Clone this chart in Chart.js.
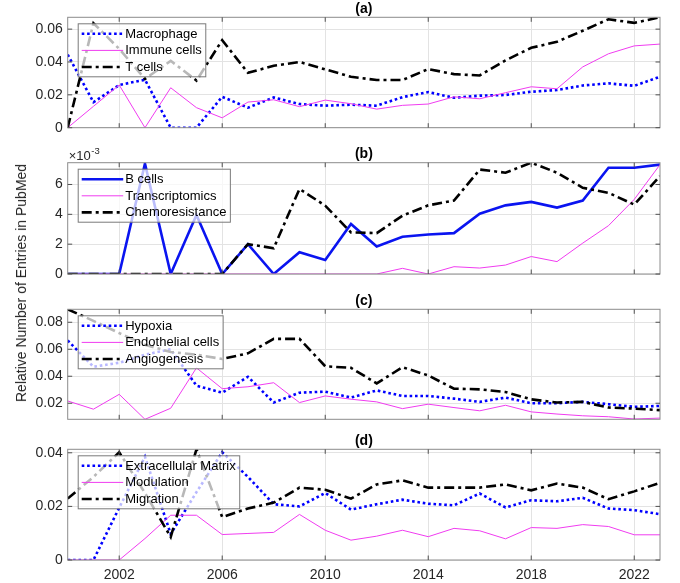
<!DOCTYPE html>
<html>
<head>
<meta charset="utf-8">
<script src="https://cdn.jsdelivr.net/npm/chart.js@4.4.1/dist/chart.umd.min.js"></script>
<style>
html,body{margin:0;padding:0;background:#fff;}
#wrap{position:relative;width:680px;height:583px;overflow:hidden;background:#fff;}
#wrap canvas{position:absolute;left:0;top:0;}
#ylab{position:absolute;left:21px;top:283px;transform:translate(-50%,-50%) rotate(-90deg);white-space:nowrap;font:14px 'Liberation Sans',Arial,sans-serif;color:#262626;}
</style>
</head>
<body>
<div id="wrap">
<canvas id="ca" width="680" height="583"></canvas>
<canvas id="cb" width="680" height="583"></canvas>
<canvas id="cc" width="680" height="583"></canvas>
<canvas id="cd" width="680" height="583"></canvas>
<div id="ylab">Relative Number of Entries in PubMed</div>
</div>
<script>
// ---------------- DATA ----------------
const years = [2000,2001,2002,2003,2004,2005,2006,2007,2008,2009,2010,2011,2012,2013,2014,2015,2016,2017,2018,2019,2020,2021,2022,2023];
const xTickYears = [2002,2006,2010,2014,2018,2022];

// (a)
const macrophage  = [0.0445,0.0155,0.026,0.0292,0,0,0.0188,0.0122,0.0184,0.0144,0.0134,0.014,0.0134,0.0186,0.0217,0.0182,0.0195,0.0199,0.0219,0.0229,0.0257,0.027,0.0255,0.031];
const immuneCells = [0,0.013,0.026,0,0.0243,0.0122,0.006,0.0156,0.017,0.0128,0.0168,0.0146,0.0113,0.0136,0.0144,0.0188,0.0176,0.0213,0.0249,0.0237,0.037,0.045,0.0498,0.0509];
const tCells      = [0,0.0636,0.048,0.0297,0.0407,0.0287,0.0533,0.0334,0.0377,0.040,0.0355,0.031,0.029,0.029,0.0357,0.0326,0.0318,0.041,0.0486,0.0523,0.059,0.066,0.0638,0.0672];
const aTicks = [0,0.02,0.04,0.06];
const aTickLabels = ['0','0.02','0.04','0.06'];

// (b)  values in units of 10^-3
const bCells          = [0,0,0,7.4,0,3.95,0,2.0,0,1.46,0.94,3.35,1.84,2.5,2.65,2.74,4.04,4.6,4.83,4.45,4.92,7.12,7.12,7.33];
const transcriptomics = [0,0,0,0,0,0,0,0,0,0,0,0,0,0.38,0,0.49,0.4,0.6,1.17,0.83,2.07,3.24,5.0,7.33];
const chemoresistance = [0,0,0,0,0,0,0,2.0,1.73,5.7,4.58,2.79,2.74,3.91,4.6,4.92,7.0,6.79,7.46,6.79,5.78,5.44,4.65,6.56];
const bTicks = [0,2,4,6];
const bTickLabels = ['0','2','4','6'];

// (c)
const hypoxia      = [0.0665,0.047,0.050,0.056,0.060,0.033,0.0278,0.0396,0.0205,0.0278,0.0286,0.0242,0.0295,0.0254,0.0254,0.0234,0.021,0.0242,0.02,0.02,0.021,0.0193,0.0173,0.018];
const endothelial  = [0.0217,0.0156,0.0266,0.0081,0.0163,0.0462,0.0308,0.0322,0.0352,0.0205,0.0254,0.023,0.021,0.016,0.0193,0.0168,0.0144,0.0185,0.0136,0.012,0.0107,0.01,0.0083,0.009];
const angiogenesis = [0.0896,0.081,0.072,0.0633,0.058,0.056,0.0528,0.057,0.0677,0.0677,0.0474,0.0462,0.0347,0.0467,0.0406,0.0308,0.0303,0.0283,0.0229,0.0205,0.021,0.0168,0.016,0.0149];
const cTicks = [0.02,0.04,0.06,0.08];
const cTickLabels = ['0.02','0.04','0.06','0.08'];

// (d)
const ecm        = [0,0,0.0195,0.0385,0.0097,0.0253,0.0402,0.031,0.0208,0.02,0.025,0.0188,0.0208,0.0225,0.021,0.0204,0.0248,0.0196,0.0223,0.0219,0.0232,0.0192,0.0186,0.0171];
const modulation = [0,0,0,0.008,0.0167,0.0167,0.0095,0.0099,0.0103,0.017,0.0111,0.0074,0.0089,0.0111,0.0087,0.0118,0.0109,0.0079,0.0121,0.0118,0.0132,0.0125,0.0094,0.0094];
const migration  = [0.0229,0.031,0.0402,0.025,0.0086,0.0413,0.016,0.0192,0.0214,0.027,0.0262,0.0229,0.0282,0.0297,0.027,0.027,0.027,0.0282,0.026,0.0285,0.027,0.0227,0.0256,0.0288];
const dTicks = [0,0.02,0.04];
const dTickLabels = ['0','0.02','0.04'];

// ---------------- STYLES ----------------
const FONT = "'Liberation Sans', Arial, Helvetica, sans-serif";
const TXT = '#262626';
const styleDot   = {borderColor:'#0000ff', borderWidth:2.6, borderDash:[2.6,2.8], order:3};
const styleSolidBlue = {borderColor:'#0a14f0', borderWidth:2.6, borderDash:[], order:3};
const styleThin  = {borderColor:'#f03cf0', borderWidth:1, borderDash:[], order:2};
const styleDashDot = {borderColor:'#000000', borderWidth:2.6, borderDash:[10,4,3,4], order:1};

Chart.defaults.font.family = FONT;
Chart.defaults.font.size = 14;
Chart.defaults.color = TXT;

const decoPlugin = {
  id: 'deco',
  afterDatasetsDraw(chart, args, opts) {
    const ctx = chart.ctx, ca = chart.chartArea;
    const xs = chart.scales.x, ys = chart.scales.y;
    ctx.save();
    // axes box
    ctx.setLineDash([]);
    ctx.strokeStyle = '#8c8c8c';
    ctx.lineWidth = 1;
    ctx.strokeRect(ca.left, ca.top, ca.right - ca.left, ca.bottom - ca.top);
    // inward ticks
    ctx.strokeStyle = '#505050';
    ctx.beginPath();
    xs.ticks.forEach(t => {
      const px = xs.getPixelForValue(t.value);
      ctx.moveTo(px, ca.bottom); ctx.lineTo(px, ca.bottom - 4.5);
      ctx.moveTo(px, ca.top); ctx.lineTo(px, ca.top + 4.5);
    });
    ys.ticks.forEach(t => {
      const py = ys.getPixelForValue(t.value);
      ctx.moveTo(ca.left, py); ctx.lineTo(ca.left + 4.5, py);
      ctx.moveTo(ca.right, py); ctx.lineTo(ca.right - 4.5, py);
    });
    ctx.stroke();
    // legend
    ctx.font = '13px ' + FONT;
    const ds = chart.data.datasets;
    const maxW = Math.max(...ds.map(d => ctx.measureText(d.label).width));
    const lx = ca.left + 10.5, ly = ca.top + 6.5;
    const w = 47 + maxW + 4, h = 53;
    ctx.fillStyle = 'rgba(255,255,255,0.72)';
    ctx.fillRect(lx, ly, w, h);
    ctx.strokeStyle = '#7a7a7a';
    ctx.lineWidth = 1;
    ctx.strokeRect(lx, ly, w, h);
    ds.forEach((d, i) => {
      const ry = ly + 10 + i * 16.6;
      ctx.save();
      ctx.strokeStyle = d.borderColor;
      ctx.lineWidth = d.borderWidth;
      ctx.setLineDash(d.borderDash || []);
      ctx.beginPath();
      ctx.moveTo(lx + 3.5, ry); ctx.lineTo(lx + 45, ry);
      ctx.stroke();
      ctx.restore();
      ctx.fillStyle = '#000';
      ctx.textBaseline = 'middle';
      ctx.textAlign = 'left';
      ctx.fillText(d.label, lx + 47, ry + 0.5);
    });
    // title
    ctx.font = 'bold 14px ' + FONT;
    ctx.fillStyle = '#000';
    ctx.textAlign = 'center';
    ctx.textBaseline = 'middle';
    ctx.fillText(opts.title, (ca.left + ca.right) / 2, ca.top - 8.5);
    // exponent
    if (opts.exponent) {
      ctx.fillStyle = TXT;
      ctx.textAlign = 'left';
      ctx.textBaseline = 'alphabetic';
      ctx.font = '13px ' + FONT;
      ctx.fillText('\u00d710', ca.left + 1, ca.top - 2.5);
      const w10 = ctx.measureText('\u00d710').width;
      ctx.font = '9.5px ' + FONT;
      ctx.fillText('-3', ca.left + 1 + w10 + 0.5, ca.top - 8.5);
    }
    ctx.restore();
  }
};

function makeChart(id, cfg) {
  const datasets = cfg.series.map(s => Object.assign({
    label: s.label,
    data: years.map((yr, i) => ({x: yr, y: s.values[i]})),
    pointRadius: 0,
    pointHoverRadius: 0,
    tension: 0,
    fill: false
  }, s.style));
  const xAxisH = cfg.showX ? 583 - cfg.bottom : 0;
  return new Chart(document.getElementById(id), {
    type: 'line',
    data: {datasets},
    plugins: [decoPlugin],
    options: {
      responsive: false,
      animation: false,
      devicePixelRatio: 1,
      events: [],
      layout: {padding: {left: 0, right: 680 - 660, top: cfg.top, bottom: 583 - cfg.bottom - xAxisH}},
      plugins: {
        legend: {display: false},
        tooltip: {enabled: false},
        title: {display: false},
        deco: {title: cfg.title, exponent: !!cfg.exponent}
      },
      scales: {
        x: {
          type: 'linear', min: 2000, max: 2023,
          afterBuildTicks: s => { s.ticks = xTickYears.map(v => ({value: v})); },
          afterFit: s => { s.height = xAxisH; },
          grid: {color: '#e3e3e3', lineWidth: 1, drawTicks: false},
          border: {display: false},
          ticks: {display: !!cfg.showX, autoSkip: false, maxRotation: 0, padding: 6.5, color: TXT, font: {size: 14}, callback: v => String(v)}
        },
        y: {
          type: 'linear', min: cfg.yMin, max: cfg.yMax,
          afterBuildTicks: s => { s.ticks = cfg.yTicks.map(v => ({value: v})); },
          afterFit: s => { s.width = 67.7; },
          grid: {color: '#e3e3e3', lineWidth: 1, drawTicks: false},
          border: {display: false},
          ticks: {autoSkip: false, padding: 5, color: TXT, font: {size: 14}, callback: (v, i) => cfg.yLabels[i]}
        }
      }
    }
  });
}

makeChart('ca', {
  top: 17.3, bottom: 127.7, yMin: 0, yMax: 0.0672, yTicks: aTicks, yLabels: aTickLabels, title: '(a)',
  series: [
    {label: 'Macrophage', values: macrophage, style: styleDot},
    {label: 'Immune cells', values: immuneCells, style: styleThin},
    {label: 'T cells', values: tCells, style: styleDashDot}
  ]
});
makeChart('cb', {
  top: 162.7, bottom: 274, yMin: 0, yMax: 7.46, yTicks: bTicks, yLabels: bTickLabels, title: '(b)', exponent: true,
  series: [
    {label: 'B cells', values: bCells, style: styleSolidBlue},
    {label: 'Transcriptomics', values: transcriptomics, style: styleThin},
    {label: 'Chemoresistance', values: chemoresistance, style: styleDashDot}
  ]
});
makeChart('cc', {
  top: 309.3, bottom: 419.3, yMin: 0.0081, yMax: 0.0896, yTicks: cTicks, yLabels: cTickLabels, title: '(c)',
  series: [
    {label: 'Hypoxia', values: hypoxia, style: styleDot},
    {label: 'Endothelial cells', values: endothelial, style: styleThin},
    {label: 'Angiogenesis', values: angiogenesis, style: styleDashDot}
  ]
});
makeChart('cd', {
  top: 449.3, bottom: 560, yMin: 0, yMax: 0.0413, yTicks: dTicks, yLabels: dTickLabels, title: '(d)', showX: true,
  series: [
    {label: 'Extracellular Matrix', values: ecm, style: styleDot},
    {label: 'Modulation', values: modulation, style: styleThin},
    {label: 'Migration', values: migration, style: styleDashDot}
  ]
});
</script>
</body>
</html>
